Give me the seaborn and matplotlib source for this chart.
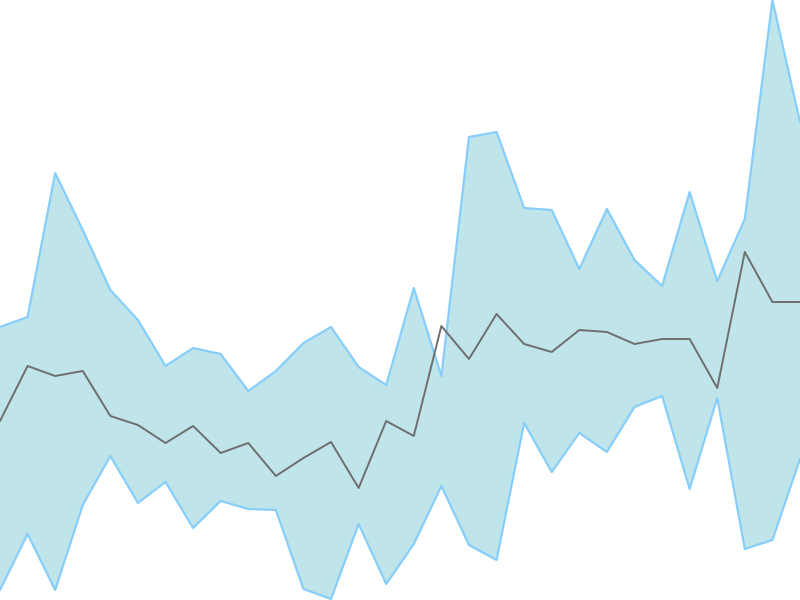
import numpy as np
import pandas as pd
import matplotlib
matplotlib.use("Agg")
import matplotlib.pyplot as plt
import seaborn as sb

# values (screen height 600, so value = 600 - pixel row)
steps = list(range(30))
upper = [273, 283, 427, 370, 310, 280, 234, 252, 246, 209,
         229, 257, 273, 233, 215, 312, 224, 463, 468, 392,
         390, 331, 391, 340, 314, 408, 319, 381, 600, 478]
middle = [179, 234, 224, 229, 184, 175, 157, 174, 147, 157,
          124, 142, 158, 112, 179, 164, 274, 241, 286, 256,
          248, 270, 268, 256, 261, 261, 212, 348, 298, 298]
lower = [10, 66, 10, 95, 144, 97, 118, 72, 99, 91,
         90, 11, 1, 76, 16, 56, 114, 55, 40, 177,
         128, 167, 148, 193, 204, 111, 202, 51, 60, 141]

df = pd.DataFrame({'step': steps, 'upper': upper, 'middle': middle, 'lower': lower})

sb.set_style('white')
fig = plt.figure(figsize=(8, 6), dpi=100)
ax = fig.add_axes([0, 0, 1, 1])

ax.fill_between(df['step'], df['lower'], df['upper'], color='#bfe4ea', lw=0)
sb.lineplot(data=df, x='step', y='upper', color='#87cefa', lw=1.6, ax=ax)
sb.lineplot(data=df, x='step', y='lower', color='#87cefa', lw=1.6, ax=ax)
sb.lineplot(data=df, x='step', y='middle', color='#6e6e6e', lw=1.4, ax=ax)

ax.set_xlim(0, 29)
ax.set_ylim(0, 600)
ax.axis('off')
plt.savefig('out.png', dpi=100)
